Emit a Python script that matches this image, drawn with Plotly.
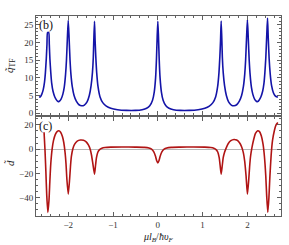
import plotly.graph_objects as go
from plotly.subplots import make_subplots

# ---- data ----
q_x = [-2.65, -2.62, -2.59, -2.56, -2.53, -2.51, -2.49, -2.475, -2.462, -2.436, -2.423, -2.41, -2.39, -2.37,
       -2.34, -2.30, -2.26, -2.23, -2.20, -2.16, -2.12, -2.09, -2.06, -2.04, -2.02, -2.00, -1.98, -1.96,
       -1.94, -1.91, -1.87, -1.82, -1.76, -1.70, -1.64, -1.58, -1.53, -1.49, -1.46, -1.44, -1.43, -1.414,
       -1.40, -1.385, -1.365, -1.335, -1.29, -1.23, -1.15, -1.05, -0.9, -0.7, -0.5, -0.35, -0.25, -0.18,
       -0.12, -0.08, -0.05, -0.03, -0.015, 0.0,
       0.015, 0.03, 0.05, 0.08, 0.12, 0.18, 0.25, 0.35, 0.5, 0.7, 0.9, 1.05, 1.15, 1.23, 1.29, 1.335,
       1.365, 1.385, 1.40, 1.414, 1.43, 1.44, 1.46, 1.49, 1.53, 1.58, 1.64, 1.70, 1.76, 1.82, 1.87, 1.91,
       1.94, 1.96, 1.98, 2.00, 2.02, 2.04, 2.06, 2.09, 2.12, 2.16, 2.20, 2.23, 2.26, 2.30, 2.34, 2.37,
       2.39, 2.41, 2.43, 2.449, 2.465, 2.485, 2.51, 2.54, 2.58, 2.62, 2.68]
q_y = [4.5, 4.7, 5.4, 6.6, 8.8, 11.5, 15.5, 19.5, 22.8, 22.8, 19.5, 15.5, 11.5, 8.5,
       6.2, 4.6, 3.7, 3.3, 3.4, 4.0, 5.4, 7.3, 11.0, 15.0, 21.0, 26.3, 21.0, 15.0,
       11.0, 7.5, 5.0, 3.4, 2.4, 2.1, 2.3, 3.2, 5.0, 7.8, 11.5, 16.0, 20.5, 26.0,
       20.5, 16.0, 11.5, 7.5, 4.6, 3.0, 2.0, 1.4, 1.0, 0.8, 0.8, 1.0, 1.4, 2.1,
       3.6, 6.0, 10.0, 15.5, 21.5, 26.0,
       21.5, 15.5, 10.0, 6.0, 3.6, 2.1, 1.4, 1.0, 0.8, 0.8, 1.0, 1.4, 2.0, 3.0, 4.6, 7.5,
       11.5, 16.0, 20.5, 26.1, 20.5, 16.0, 11.5, 7.8, 5.0, 3.2, 2.3, 2.1, 2.4, 3.4, 5.0, 7.5,
       11.0, 15.0, 21.0, 26.4, 21.0, 15.0, 11.0, 7.3, 5.4, 4.0, 3.4, 3.3, 3.7, 4.6, 6.2, 8.5,
       11.5, 15.5, 21.5, 26.9, 21.5, 15.5, 11.0, 7.8, 5.8, 4.9, 4.5]

d_x = [-2.54, -2.52, -2.50, -2.48, -2.455, -2.43, -2.41, -2.39, -2.36, -2.33, -2.29, -2.25, -2.21, -2.17,
       -2.13, -2.10, -2.07, -2.05, -2.03, -2.00, -1.97, -1.95, -1.93, -1.90, -1.86, -1.80, -1.73, -1.66,
       -1.60, -1.55, -1.51, -1.48, -1.45, -1.414, -1.39, -1.37, -1.34, -1.30, -1.25, -1.18, -1.05, -0.8,
       -0.5, -0.3, -0.2, -0.14, -0.09, -0.05, -0.025, 0.0, 0.025, 0.05, 0.09, 0.14, 0.2, 0.3, 0.5, 0.8,
       1.05, 1.18, 1.25, 1.30, 1.34, 1.37, 1.39, 1.414, 1.44, 1.46, 1.49, 1.52, 1.57, 1.63, 1.70, 1.76,
       1.82, 1.87, 1.91, 1.94, 1.97, 2.00, 2.03, 2.05, 2.07, 2.10, 2.14, 2.18, 2.23, 2.27, 2.31, 2.35,
       2.38, 2.41, 2.43, 2.455, 2.48, 2.50, 2.53, 2.56, 2.60, 2.64, 2.68]
d_y = [14, 0, -18, -38, -52, -42, -26, -12, 0, 7, 12, 14.5, 15.2, 14,
       10.5, 5.5, -3, -12, -25, -37, -25, -14, -6, 0, 4, 6.6, 7.5, 7.3,
       6, 3.5, 0, -5, -12, -20.5, -13, -7, -2.5, -0.3, 0.8, 1.4, 1.7, 1.8,
       1.7, 1.5, 1.0, 0.0, -2.2, -6, -9.5, -11.3, -9.5, -6, -2.2, 0.0, 1.0, 1.5, 1.7, 1.8,
       1.7, 1.4, 0.8, -0.3, -2.5, -7, -13, -20.5, -13, -7, -2.5, 0.5, 4.5, 7, 8, 7.5,
       5.5, 2, -3, -10, -22, -37, -25, -14, -6, 1, 8, 13, 15.2, 14.5, 11, 4,
       -6, -22, -38, -52, -40, -24, -5, 7, 15, 20, 22]

x_tickvals = [-2, -1, 0, 1, 2]
x_ticktext = ["\u22122", "\u22121", "0", "1", "2"]
q_tickvals = [0, 5, 10, 15, 20, 25]
d_tickvals = [-40, -20, 0, 20]
d_ticktext = ["\u221240", "\u221220", "0", "20"]

FONT = "Liberation Serif"
FRAME = "#606060"

fig = make_subplots(rows=2, cols=1, shared_xaxes=False, vertical_spacing=0.01)
fig.add_trace(go.Scatter(x=q_x, y=q_y, mode="lines",
                         line=dict(color="#1414a8", width=1.6, shape="spline", smoothing=0.6)),
              row=1, col=1)
fig.add_trace(go.Scatter(x=d_x, y=d_y, mode="lines",
                         line=dict(color="#b01414", width=1.6, shape="spline", smoothing=0.6)),
              row=2, col=1)

axis_common = dict(showline=True, linecolor=FRAME, linewidth=1, mirror="allticks",
                   ticks="inside", ticklen=4, tickcolor=FRAME, showgrid=False,
                   tickfont=dict(family=FONT, size=9, color="#333"))

fig.update_xaxes(range=[-2.72, 2.75], tickvals=x_tickvals, ticktext=x_ticktext,
                 zeroline=False, minor=dict(dtick=0.2, tick0=0, ticks="inside", ticklen=2, tickcolor=FRAME),
                 **axis_common)
fig.update_xaxes(showticklabels=False, row=1, col=1)

fig.update_yaxes(row=1, col=1, range=[-0.5, 27.5], tickvals=q_tickvals, zeroline=False,
                 minor=dict(dtick=1, ticks="inside", ticklen=2, tickcolor=FRAME),
                 **axis_common)
fig.update_yaxes(row=2, col=1, range=[-55, 26.5], tickvals=d_tickvals, ticktext=d_ticktext,
                 zeroline=True, zerolinecolor="#b8b8b8", zerolinewidth=1,
                 minor=dict(dtick=5, ticks="inside", ticklen=2, tickcolor=FRAME),
                 **axis_common)

fig.update_layout(
    width=289, height=245,
    margin=dict(l=36, r=8, t=16, b=29),
    plot_bgcolor="white", paper_bgcolor="white",
    showlegend=False,
)
fig.layout.yaxis.domain = [0.505, 1.0]
fig.layout.yaxis2.domain = [0.0, 0.495]

fig.add_annotation(text="(b)", xref="x domain", yref="y domain", x=0.005, y=1.0,
                   xanchor="left", yanchor="top", showarrow=False,
                   font=dict(family=FONT, size=12, color="#111"))
fig.add_annotation(text="(c)", xref="x2 domain", yref="y2 domain", x=0.005, y=1.0,
                   xanchor="left", yanchor="top", showarrow=False,
                   font=dict(family=FONT, size=12, color="#111"))

# axis titles
fig.add_annotation(text="<i>\u03bcl</i><sub><i>B</i></sub>/<i>\u0127\u03c5</i><sub><i>F</i></sub>",
                   xref="paper", yref="paper", x=0.498, y=-0.108, xanchor="center", yanchor="middle",
                   showarrow=False, font=dict(family=FONT, size=10, color="#222"))
fig.add_annotation(text="<i>q\u0303</i><sub>TF</sub>", xref="paper", yref="paper", x=-0.106, y=0.75,
                   xanchor="center", yanchor="middle", textangle=-90, showarrow=False,
                   font=dict(family=FONT, size=11, color="#222"))
fig.add_annotation(text="<i>d\u0303</i>", xref="paper", yref="paper", x=-0.106, y=0.265,
                   xanchor="center", yanchor="middle", textangle=-90, showarrow=False,
                   font=dict(family=FONT, size=11, color="#222"))

fig.write_html("out.html", config={"displayModeBar": False},
               post_script="document.body.style.margin='0';document.body.style.overflow='hidden';")
